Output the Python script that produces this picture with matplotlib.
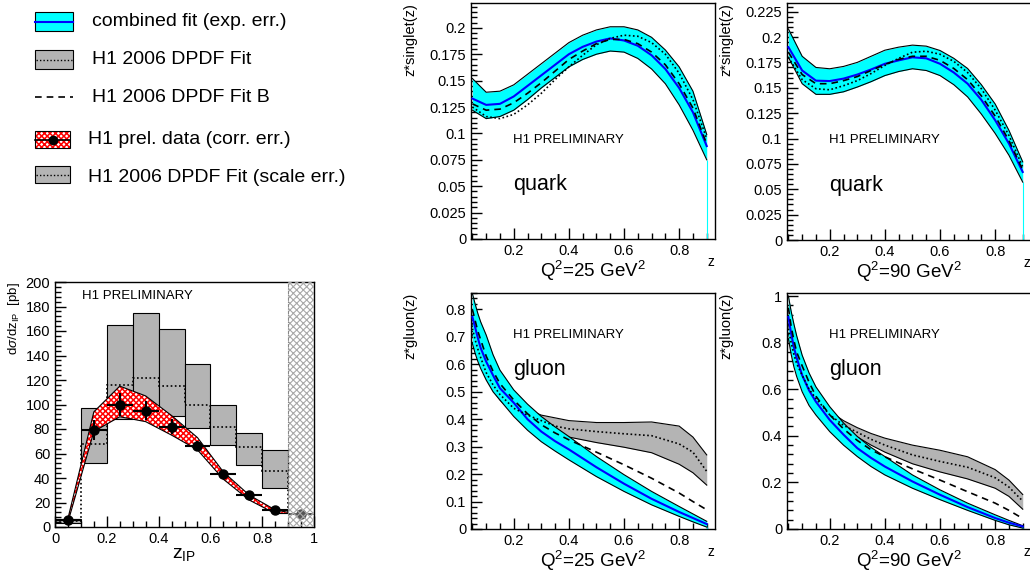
import numpy as np
import matplotlib
matplotlib.use("Agg")
import matplotlib.pyplot as plt
from matplotlib.patches import Rectangle
from matplotlib.ticker import MultipleLocator, FuncFormatter

plt.rcParams["font.family"] = ["Liberation Sans", "DejaVu Sans"]
plt.rcParams["mathtext.fontset"] = "custom"
plt.rcParams["mathtext.rm"] = "Liberation Sans"
plt.rcParams["mathtext.it"] = "Liberation Sans:italic"
plt.rcParams["hatch.linewidth"] = 1.1

# ---- bottom-left: d(sigma)/dz_IP ----
bin_edges = [0.0, 0.1, 0.2, 0.3, 0.4, 0.5, 0.6, 0.7, 0.8, 0.9, 1.0]
fit_hi = [6.5, 97, 165, 175, 162, 133, 100, 77, 63]
fit_lo = [3.5, 52, 88, 93, 91, 81, 67, 51, 32]
fit_c = [5, 68, 116, 121.5, 115.5, 100, 82, 65, 46, 11]
data_x = [0.05, 0.15, 0.25, 0.35, 0.45, 0.55, 0.65, 0.75, 0.85, 0.95]
data_y = [6, 79, 100, 95, 82, 66, 43, 26, 14, 11]
data_err = [1.5, 8, 9, 8, 6, 4, 3, 2, 2, 2]
band_x = [0.05, 0.15, 0.25, 0.35, 0.45, 0.55, 0.65, 0.75, 0.85, 0.9]
band_hi = [7, 94, 115, 107, 91, 73, 45, 26, 14, 12]
band_lo = [4, 78, 90, 86, 75, 63, 39, 22, 11, 11]

# ---- quark singlet ----
z_q = [0.05, 0.1, 0.15, 0.2, 0.25, 0.3, 0.35, 0.4, 0.45, 0.5, 0.55, 0.6, 0.65, 0.7, 0.75, 0.8, 0.85, 0.9]
q25_c = [0.133, 0.127, 0.128, 0.135, 0.145, 0.155, 0.165, 0.175, 0.182, 0.187, 0.190, 0.188, 0.183, 0.174, 0.161, 0.143, 0.120, 0.088]
q25_hi = [0.152, 0.139, 0.140, 0.146, 0.156, 0.166, 0.176, 0.186, 0.193, 0.198, 0.201, 0.201, 0.198, 0.191, 0.179, 0.163, 0.140, 0.099]
q25_lo = [0.122, 0.114, 0.116, 0.122, 0.132, 0.143, 0.153, 0.163, 0.170, 0.175, 0.178, 0.177, 0.171, 0.161, 0.147, 0.127, 0.103, 0.075]
q25_b = [0.128, 0.122, 0.123, 0.129, 0.138, 0.148, 0.159, 0.170, 0.178, 0.185, 0.189, 0.189, 0.185, 0.177, 0.165, 0.147, 0.124, 0.090]
q25_fit = [0.125, 0.116, 0.114, 0.118, 0.127, 0.138, 0.151, 0.163, 0.174, 0.184, 0.190, 0.193, 0.192, 0.186, 0.175, 0.157, 0.132, 0.095]

q90_c = [0.190, 0.167, 0.157, 0.1566, 0.159, 0.163, 0.168, 0.1736, 0.177, 0.180, 0.179, 0.1736, 0.165, 0.154, 0.138, 0.118, 0.095, 0.067]
q90_hi = [0.208, 0.181, 0.170, 0.1687, 0.171, 0.175, 0.181, 0.187, 0.190, 0.192, 0.191, 0.1867, 0.179, 0.169, 0.153, 0.134, 0.108, 0.077]
q90_lo = [0.180, 0.154, 0.1435, 0.1435, 0.146, 0.1507, 0.156, 0.162, 0.166, 0.1687, 0.167, 0.162, 0.153, 0.141, 0.124, 0.105, 0.0835, 0.057]
q90_b = [0.185, 0.163, 0.154, 0.154, 0.157, 0.161, 0.167, 0.173, 0.178, 0.181, 0.181, 0.177, 0.169, 0.158, 0.142, 0.122, 0.098, 0.069]
q90_fit = [0.180, 0.158, 0.149, 0.148, 0.152, 0.157, 0.164, 0.172, 0.179, 0.185, 0.186, 0.183, 0.176, 0.165, 0.149, 0.128, 0.103, 0.072]

# ---- gluon ----
z_g = [0.05, 0.06, 0.07, 0.08, 0.1, 0.125, 0.15, 0.2, 0.25, 0.3, 0.35, 0.4, 0.5, 0.6, 0.7, 0.8, 0.85, 0.9]
g25_c = [0.773, 0.735, 0.695, 0.66, 0.61, 0.56, 0.513, 0.46, 0.40, 0.355, 0.32, 0.29, 0.225, 0.165, 0.11, 0.062, 0.04, 0.018]
g25_hi = [0.858, 0.82, 0.785, 0.755, 0.707, 0.635, 0.579, 0.507, 0.455, 0.41, 0.372, 0.337, 0.264, 0.198, 0.137, 0.082, 0.055, 0.028]
g25_lo = [0.676, 0.64, 0.61, 0.585, 0.543, 0.50, 0.47, 0.41, 0.36, 0.318, 0.284, 0.252, 0.191, 0.137, 0.088, 0.046, 0.026, 0.007]
g25_b = [0.80, 0.76, 0.72, 0.69, 0.63, 0.575, 0.53, 0.47, 0.42, 0.38, 0.35, 0.325, 0.28, 0.234, 0.185, 0.131, 0.10, 0.07]
g25_fit = [0.73, 0.69, 0.655, 0.625, 0.57, 0.525, 0.49, 0.44, 0.415, 0.395, 0.375, 0.365, 0.355, 0.347, 0.34, 0.31, 0.28, 0.21]
g25_fhi = [0.75, 0.71, 0.675, 0.645, 0.59, 0.545, 0.51, 0.46, 0.435, 0.415, 0.405, 0.395, 0.388, 0.388, 0.39, 0.375, 0.335, 0.27]
g25_flo = [0.71, 0.67, 0.635, 0.605, 0.55, 0.505, 0.47, 0.42, 0.39, 0.37, 0.35, 0.335, 0.315, 0.298, 0.278, 0.236, 0.205, 0.16]

g90_c = [0.91, 0.84, 0.78, 0.735, 0.66, 0.595, 0.546, 0.468, 0.405, 0.347, 0.305, 0.268, 0.204, 0.147, 0.094, 0.047, 0.027, 0.011]
g90_hi = [1.0, 0.935, 0.88, 0.83, 0.746, 0.67, 0.61, 0.525, 0.455, 0.397, 0.35, 0.311, 0.232, 0.168, 0.111, 0.061, 0.037, 0.014]
g90_lo = [0.817, 0.75, 0.696, 0.655, 0.589, 0.53, 0.489, 0.418, 0.36, 0.311, 0.268, 0.232, 0.175, 0.126, 0.08, 0.037, 0.018, 0.004]
g90_b = [0.95, 0.87, 0.81, 0.76, 0.70, 0.63, 0.57, 0.49, 0.43, 0.38, 0.34, 0.31, 0.258, 0.21, 0.16, 0.111, 0.08, 0.045]
g90_fit = [0.86, 0.80, 0.75, 0.71, 0.66, 0.60, 0.56, 0.49, 0.445, 0.415, 0.385, 0.36, 0.318, 0.29, 0.265, 0.22, 0.18, 0.12]
g90_fhi = [0.88, 0.82, 0.77, 0.73, 0.675, 0.615, 0.575, 0.505, 0.465, 0.435, 0.41, 0.39, 0.36, 0.338, 0.31, 0.255, 0.21, 0.148]
g90_flo = [0.84, 0.78, 0.73, 0.69, 0.645, 0.585, 0.545, 0.475, 0.43, 0.395, 0.36, 0.33, 0.28, 0.245, 0.215, 0.175, 0.14, 0.085]

legend_labels = ["combined fit (exp. err.)", "H1 2006 DPDF Fit", "H1 2006 DPDF Fit B",
                 "H1 prel. data (corr. err.)", "H1 2006 DPDF Fit (scale err.)"]

CYAN = "#00FFFF"
BLUE = "#0000FF"
GREY = "#B4B4B4"
DOT = (0, (1, 1.5))
DASH = (0, (4, 3))
RED_HATCH = "xxxxxx"

W, H = 1030, 576
fig = plt.figure(figsize=(W / 100, H / 100), dpi=100)


def px_axes(l, t, w, h):
    return fig.add_axes([l / W, 1 - (t + h) / H, w / W, h / H])


fmt = FuncFormatter(lambda v, p: f"{v:g}")


def style(ax, ymaj, ymin, xmaj=0.2, xmin=0.05, size=10.5):
    ax.xaxis.set_major_locator(MultipleLocator(xmaj))
    ax.xaxis.set_minor_locator(MultipleLocator(xmin))
    ax.yaxis.set_major_locator(MultipleLocator(ymaj))
    ax.yaxis.set_minor_locator(MultipleLocator(ymin))
    ax.xaxis.set_major_formatter(fmt)
    ax.yaxis.set_major_formatter(fmt)
    ax.tick_params(which="both", direction="in", top=False, right=False, labelsize=size)
    ax.tick_params(which="major", length=8, width=1)
    ax.tick_params(which="minor", length=4, width=1)
    for s in ax.spines.values():
        s.set_linewidth(1)


def pdf_panel(ax, z, c, hi, lo, fb, fit, ylim, ylabel, q2, name, name_y, fhi=None, flo=None):
    if fhi is not None:
        ax.fill_between(z, flo, fhi, color=GREY, lw=0, zorder=1)
        ax.plot(z, fhi, color="k", lw=0.8, zorder=1)
        ax.plot(z, flo, color="k", lw=0.8, zorder=1)
    ax.fill_between(z, lo, hi, color=CYAN, lw=0, zorder=2)
    ax.vlines(z[-1], 0, lo[-1], color=CYAN, lw=0.8, zorder=2)
    ax.plot(z, hi, color="k", lw=0.8, zorder=3)
    ax.plot(z, lo, color="k", lw=0.8, zorder=3)
    ax.plot(z, c, color=BLUE, lw=1.5, zorder=4)
    ax.plot(z, fb, color="k", lw=1.2, ls=DASH, zorder=5)
    ax.plot(z, fit, color="k", lw=1.2, ls=DOT, zorder=5)
    ax.set_xlim(0.045, 0.93)
    ax.set_ylim(*ylim)
    ax.text(0.172, name_y[0], "H1 PRELIMINARY", transform=ax.transAxes, fontsize=9.5, va="center")
    ax.text(0.172, name_y[1], name, transform=ax.transAxes, fontsize=15.5, va="center")
    ax.text(-0.25, 1.0, ylabel, transform=ax.transAxes, rotation=90, ha="center", va="top", fontsize=10.5)
    ax.text(0.5, -0.135, q2, transform=ax.transAxes, ha="center", va="center", fontsize=13.5)
    ax.text(0.984, -0.097, "z", transform=ax.transAxes, ha="center", va="center", fontsize=10)


# top row: quark
ax = px_axes(471, 3, 244, 236)
pdf_panel(ax, z_q, q25_c, q25_hi, q25_lo, q25_b, q25_fit, (0, 0.2235), "z*singlet(z)",
          r"Q$^2$=25 GeV$^2$", "quark", (0.42, 0.229))
style(ax, 0.025, 0.005)

ax = px_axes(787, 3, 244, 237)
pdf_panel(ax, z_q, q90_c, q90_hi, q90_lo, q90_b, q90_fit, (0, 0.2335), "z*singlet(z)",
          r"Q$^2$=90 GeV$^2$", "quark", (0.42, 0.229))
style(ax, 0.025, 0.005)

# bottom row: gluon
ax = px_axes(471, 293, 244, 236)
pdf_panel(ax, z_g, g25_c, g25_hi, g25_lo, g25_b, g25_fit, (0, 0.86), "z*gluon(z)",
          r"Q$^2$=25 GeV$^2$", "gluon", (0.822, 0.674), g25_fhi, g25_flo)
style(ax, 0.1, 0.02)

ax = px_axes(787, 293, 244, 236)
pdf_panel(ax, z_g, g90_c, g90_hi, g90_lo, g90_b, g90_fit, (0, 1.013), "z*gluon(z)",
          r"Q$^2$=90 GeV$^2$", "gluon", (0.822, 0.674), g90_fhi, g90_flo)
style(ax, 0.2, 0.04)

# bottom-left: cross section
ax = px_axes(55, 282, 259, 245)
lefts = bin_edges[:-2]
heights = [h - l for h, l in zip(fit_hi, fit_lo)]
ax.bar(lefts, heights, bottom=fit_lo, width=0.1, align="edge", color=GREY,
       edgecolor="k", lw=0.8, zorder=1)
ax.stairs(fit_c, bin_edges, baseline=None, color="k", lw=1.2, ls=DOT, zorder=2)
ax.fill_between(band_x, band_lo, band_hi, facecolor="white", edgecolor="red",
                hatch=RED_HATCH, lw=0, zorder=3)
ax.plot(band_x, band_hi, color="k", lw=0.8, zorder=3)
ax.plot(band_x, band_lo, color="k", lw=0.8, zorder=3)
ax.errorbar(data_x[:-1], data_y[:-1], xerr=0.05, yerr=data_err[:-1], fmt="o", color="k",
            ms=6.5, lw=1.5, capsize=0, zorder=4)
ax.errorbar(data_x[-1:], data_y[-1:], xerr=0.05, yerr=data_err[-1:], fmt="o", color="#555555",
            ms=6.5, lw=1.2, capsize=0, zorder=4)
with plt.rc_context({"hatch.linewidth": 0.8}):
    ax.axvspan(0.9, 1.0, facecolor="none", edgecolor="#A8A8A8", hatch="xxxxx", lw=0, zorder=5)
ax.axvline(0.9, color="#888888", lw=0.8, ls=(0, (3, 1, 1, 1)), zorder=5)
ax.set_xlim(0, 1)
ax.set_ylim(0, 200)
style(ax, 20, 4, 0.2, 0.05, size=10.5)
ax.text(0.104, 0.943, "H1 PRELIMINARY", transform=ax.transAxes, fontsize=9.5, va="center")
ax.text(-0.158, 1.0, r"d$\sigma$/dz$_{\rm IP}$  [pb]", transform=ax.transAxes, rotation=90,
        ha="center", va="top", fontsize=9.5)
ax.text(0.5, -0.114, r"z$_{\rm IP}$", transform=ax.transAxes, ha="center", va="center", fontsize=14)

# legend drawn in pixel coordinates
lax = fig.add_axes([0, 0, 1, 1], zorder=-1)
lax.set_xlim(0, W)
lax.set_ylim(H, 0)
lax.axis("off")
leg_y = [22, 60, 97, 140, 177]
# combined fit
lax.add_patch(Rectangle((35, 12), 38, 19, facecolor=CYAN, edgecolor="k", lw=0.8))
lax.plot([35, 73], [21.5, 21.5], color=BLUE, lw=1.5)
# H1 2006 DPDF fit
lax.add_patch(Rectangle((35, 50), 38, 19, facecolor=GREY, edgecolor="k", lw=0.8))
lax.plot([36, 72], [59.5, 59.5], color="k", lw=1.0, ls=DOT)
# Fit B
lax.plot([35, 73], [97, 97], color="k", lw=1.2, ls=DASH)
# data
lax.add_patch(Rectangle((35, 131), 35, 17, facecolor="white", edgecolor="red", hatch=RED_HATCH, lw=0))
lax.add_patch(Rectangle((35, 131), 35, 17, facecolor="none", edgecolor="k", lw=0.8))
lax.plot([35, 70], [139.5, 139.5], color="k", lw=1.2)
lax.plot([52.5], [139.5], "o", color="k", ms=6)
# scale err
lax.add_patch(Rectangle((35, 166), 35, 17, facecolor=GREY, edgecolor="k", lw=0.8))
lax.plot([36, 69], [174.5, 174.5], color="k", lw=1.0, ls=DOT)
text_x = [92, 92, 92, 88, 88]
for tx, ty, lab in zip(text_x, leg_y, legend_labels):
    lax.text(tx, ty, lab, fontsize=14, va="center", ha="left")

fig.savefig("out.png", dpi=100)
